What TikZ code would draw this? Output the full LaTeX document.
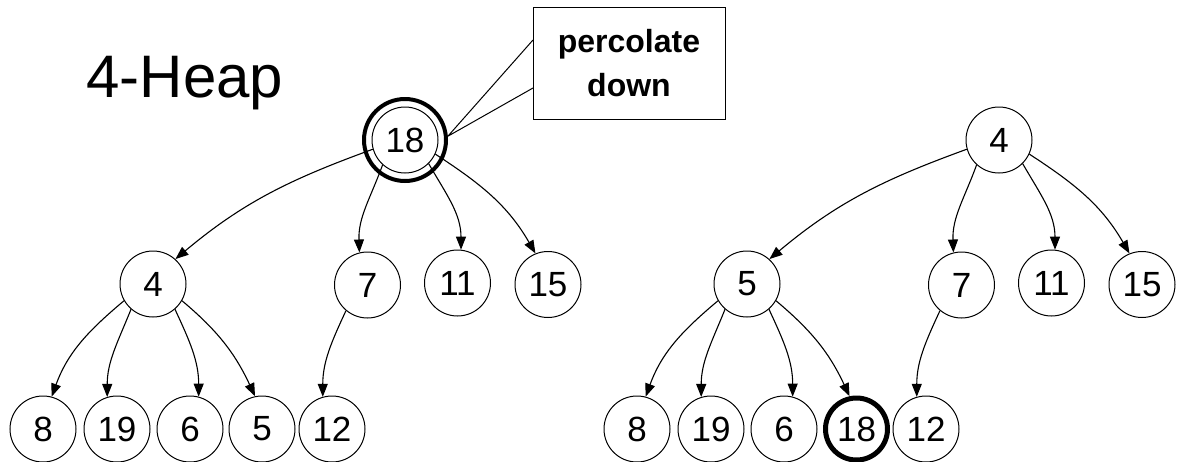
\documentclass[tikz,border=0pt]{standalone}
\usepackage{fontspec}
\setmainfont{Liberation Sans}
\usetikzlibrary{arrows.meta}
\begin{document}
\begin{tikzpicture}[x=0.5pt,y=-0.5pt,
  keynode/.style={circle,draw,line width=0.5pt,minimum size=33pt,inner sep=0pt,
    font=\fontsize{17.5}{20}\selectfont},
  hotnode/.style={keynode,line width=2.5pt,minimum size=31pt},
  ringnode/.style={circle,draw,line width=2pt,minimum size=41pt,inner sep=0pt},
  edge/.style={line width=0.55pt,-{Triangle[length=6.5pt,width=5pt]}},
  callout/.style={draw,fill=white,line width=0.5pt,minimum width=96pt,minimum height=56pt,
    align=center,inner sep=0pt,font=\fontsize{16}{22}\selectfont\bfseries},
  title/.style={font=\fontsize{30}{34}\selectfont,inner sep=0pt,anchor=base west}]
\useasboundingbox (0,0) rectangle (1179,461);

\node[title] (title) at (86,97) {4-Heap};

% heap before the percolation step
\node[keynode] (L0) at (405,140) {18};
\node[keynode] (L1) at (153,284) {4};
\node[keynode] (L2) at (367.5,285) {7};
\node[keynode] (L3) at (457.5,283) {11};
\node[keynode] (L4) at (548,284.5) {15};
\node[keynode] (L5) at (43,429) {8};
\node[keynode] (L6) at (117,429) {19};
\node[keynode] (L7) at (190,429) {6};
\node[keynode] (L8) at (262,429) {5};
\node[keynode] (L9) at (332,429) {12};

\draw[edge] (L0.196) to[out=200,in=40] (L1.48);
\draw[edge] (L0.228) to[out=250,in=92] (L2.104);
\draw[edge] (L0.-45) to[out=-60,in=90] (L3.84);
\draw[edge] (L0.-25) to[out=-33,in=120] (L4.112);
\draw[edge] (L1.210) to[out=220,in=70] (L5.75);
\draw[edge] (L1.229) to[out=248,in=90] (L6.107);
\draw[edge] (L1.-49) to[out=-65,in=90] (L7.75);
\draw[edge] (L1.-30) to[out=-40,in=115] (L8.102);
\draw[edge] (L2.230) to[out=245,in=90] (L9.106);

\node[ringnode] (L0ring) at (L0) {};

% callout pointing at the root
\node[callout] (note) at (629,63) {percolate\\down};
\coordinate (noteA) at (533,40);
\coordinate (noteB) at (533,88);
\draw[line width=0.5pt] (noteA) -- (L0ring.5) -- (noteB);

% heap after the percolation step
\node[keynode] (R0) at (999,140) {4};
\node[keynode] (R1) at (747,284) {5};
\node[keynode] (R2) at (961.5,285) {7};
\node[keynode] (R3) at (1051.5,283) {11};
\node[keynode] (R4) at (1142,284.5) {15};
\node[keynode] (R5) at (637,429) {8};
\node[keynode] (R6) at (711,429) {19};
\node[keynode] (R7) at (784,429) {6};
\node[hotnode] (R8) at (856.5,429) {18};
\node[keynode] (R9) at (926,429) {12};

\draw[edge] (R0.196) to[out=200,in=40] (R1.48);
\draw[edge] (R0.228) to[out=250,in=92] (R2.104);
\draw[edge] (R0.-45) to[out=-60,in=90] (R3.84);
\draw[edge] (R0.-25) to[out=-33,in=120] (R4.112);
\draw[edge] (R1.210) to[out=220,in=70] (R5.75);
\draw[edge] (R1.229) to[out=248,in=90] (R6.107);
\draw[edge] (R1.-49) to[out=-65,in=90] (R7.75);
\draw[edge] (R1.-30) to[out=-40,in=115] (R8.102);
\draw[edge] (R2.230) to[out=245,in=90] (R9.106);
\end{tikzpicture}
\end{document}
